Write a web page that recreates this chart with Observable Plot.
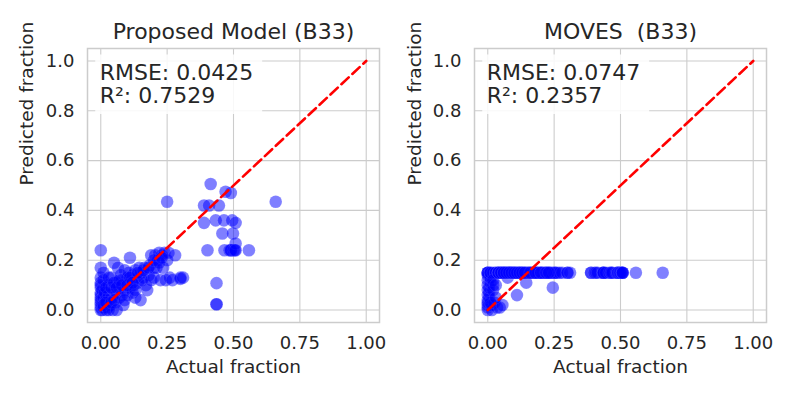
<!DOCTYPE html>
<html><head><meta charset="utf-8">
<script src="https://cdn.jsdelivr.net/npm/d3@7"></script>
<script src="https://cdn.jsdelivr.net/npm/@observablehq/plot@0.6"></script>
<style>
html,body{margin:0;padding:0;background:#fff;}
#wrap{position:relative;width:793px;height:397px;overflow:hidden;background:#fff;}
#wrap svg{position:absolute;top:0;font-family:"DejaVu Sans",sans-serif;}
svg text{white-space:pre;}
</style></head><body><div id="wrap"></div>
<script>
// Actual fraction (shared by both panels)
const actual = [
  0,0,0,0,0,0,0,0,0,0,0,0,0,0,0.005,0.005,0.005,0.01,0.01,0.01,0.01,0.015,0.015,0.02,
  0.02,0.025,0.03,0.03,0.035,0.04,0.04,0.045,0.05,0.05,0.055,0.06,0.06,0.065,0.07,0.07,0.075,0.08,0.08,0.085,0.09,0.09,0.095,0.1,0.1,
  0.105,0.11,0.11,0.115,0.12,0.12,0.125,0.13,0.13,0.14,0.14,0.145,0.15,0.15,0.155,0.16,0.165,0.17,0.175,0.18,0.185,0.19,0.19,0.2,0.2,
  0.205,0.21,0.215,0.22,0.225,0.23,0.235,0.24,0.245,0.25,0.25,0.255,0.26,0.27,0.28,0.3,0.3,0.31,
  0.389,0.389,0.402,0.408,0.414,0.433,0.436,0.436,0.436,0.445,0.458,0.464,0.466,0.47,0.485,0.49,0.49,0.49,0.495,0.498,0.5,0.505,0.508,0.508,0.508,0.558,0.659,
  0.01,0.02,0.02,0.03,0.03,0.04,0.04,0.05,0.05,0.06,0.06,0.07,0.08,0.09,0.1,0.11,0.12,0.13,0.14,0.16,0.18,0.2,0.22,0.23
];
// Predicted fraction, proposed model
const proposed = [
  0,0.01,0.02,0.03,0.05,0.07,0.09,0.11,0.13,0.17,0.24,0.06,0.04,0.1,0,0.02,0.08,0.01,0.05,0.12,0.15,0.03,0.07,0,
  0.04,0.01,0.06,0.1,0.02,0.05,0.13,0,0.08,0.19,0.03,0.07,0.11,0.17,0.05,0.09,0.14,0.06,0.12,0.02,0.08,0.16,0.1,0.06,0.13,
  0.15,0.09,0.21,0.12,0.07,0.14,0.1,0.16,0.05,0.13,0.11,0.17,0.04,0.15,0.12,0.13,0.17,0.1,0.08,0.14,0.18,0.12,0.22,0.17,0.13,
  0.22,0.17,0.2,0.23,0.12,0.22,0.17,0.23,0.12,0.435,0.2,0.23,0.13,0.12,0.22,0.13,0.125,0.13,
  0.42,0.35,0.24,0.42,0.506,0.36,0.108,0.023,0.023,0.42,0.307,0.36,0.24,0.475,0.24,0.47,0.24,0.24,0.36,0.307,0.24,0.24,0.35,0.267,0.24,0.24,0.435,
  0.02,0.03,0.09,0,0.13,0.03,0.09,0.04,0.11,0,0.09,0.12,0.1,0.04,0.1,0.13,0.11,0.08,0.15,0.16,0.17,0.2,0.19,0.21
];
// Predicted fraction, MOVES
const moves = [
  0,0.02,0.04,0.06,0.08,0.1,0.12,0.15,0.15,0.15,0.15,0.14,0.01,0.03,0.05,0.07,0.09,0.11,0.13,0.15,0.15,0,0.02,0.1,
  0.15,0.03,0.15,0.15,0.01,0.15,0.15,0.01,0.15,0.15,0.02,0.15,0.15,0.15,0.15,0.15,0.13,0.15,0.15,0.15,0.15,0.15,0.15,0.15,0.15,
  0.15,0.06,0.15,0.15,0.15,0.15,0.15,0.15,0.15,0.15,0.15,0.11,0.15,0.15,0.15,0.15,0.15,0.15,0.15,0.15,0.15,0.15,0.15,0.15,0.15,
  0.15,0.15,0.15,0.15,0.15,0.15,0.15,0.15,0.09,0.15,0.15,0.15,0.15,0.15,0.15,0.15,0.15,0.15,
  0.15,0.15,0.15,0.15,0.15,0.15,0.15,0.15,0.15,0.15,0.15,0.15,0.15,0.15,0.15,0.15,0.15,0.15,0.15,0.15,0.15,0.15,0.15,0.15,0.15,0.15,0.15,
  0.03,0.08,0.12,0.05,0.1,0.15,0.15,0.15,0.15,0.15,0.15,0.15,0.15,0.15,0.15,0.15,0.15,0.15,0.15,0.15,0.15,0.15,0.15,0.15
];
const titles = ["Proposed Model (B33)", "MOVES  (B33)"];
const rmse = ["0.0425", "0.0747"];
const r2 = ["0.7529", "0.2357"];
const xTicks = [0, 0.25, 0.5, 0.75, 1];
const yTicks = [0, 0.2, 0.4, 0.6, 0.8, 1];
const diag = [0, 1];
const preds = [proposed, moves];

const ink = "#262626";
const grid = "#cccccc";
const layouts = [
  {left: 0, width: 396, mL: 87, mR: 17, ylDx: -60},
  {left: 396, width: 397, mL: 78, mR: 27, ylDx: -59}
];

const wrap = document.getElementById("wrap");
layouts.forEach((L, i) => {
  const data = actual.map((a, k) => ({a, p: preds[i][k]}));
  const chart = Plot.plot({
    width: L.width, height: 397,
    marginLeft: L.mL, marginRight: L.mR, marginTop: 48, marginBottom: 75,
    style: {fontFamily: "DejaVu Sans", color: ink, background: "transparent", overflow: "visible"},
    x: {domain: [-0.05, 1.05]},
    y: {domain: [-0.05, 1.05]},
    marks: [
      Plot.gridX(xTicks, {stroke: grid, strokeOpacity: 1, strokeWidth: 1.1}),
      Plot.gridY(yTicks, {stroke: grid, strokeOpacity: 1, strokeWidth: 1.1}),
      Plot.frame({stroke: grid, strokeWidth: 1.5}),
      Plot.axisX(xTicks, {tickSize: 0, tickPadding: 14, fontSize: 18, tickFormat: d3.format(".2f"), label: null}),
      Plot.axisY(yTicks, {tickSize: 0, tickPadding: 13, fontSize: 18, tickFormat: d3.format(".1f"), label: null}),
      Plot.rect([0], {x1: -0.019, x2: 0.61, y1: 0.785, y2: 1.024, fill: "white", fillOpacity: 0.85}),
      Plot.text([`RMSE: ${rmse[i]}\nR²: ${r2[i]}`], {x: -0.004, y: 0.99, text: d => d, textAnchor: "start", lineAnchor: "top", lineHeight: 1.045, fontSize: 22, fill: ink}),
      Plot.dot(data, {x: "a", y: "p", r: 6.3, fill: "blue", fillOpacity: 0.5, stroke: "white", strokeOpacity: 0.15, strokeWidth: 0.6}),
      Plot.line(diag, {x: d => d, y: d => d, stroke: "red", strokeWidth: 2.6, strokeDasharray: "10,5"}),
      Plot.text([titles[i]], {frameAnchor: "top", lineAnchor: "middle", dy: -17, fontSize: 22, fill: ink, text: d => d}),
      Plot.text(["Actual fraction"], {frameAnchor: "bottom", lineAnchor: "middle", dy: 45, fontSize: 18.5, fill: ink, text: d => d}),
      Plot.text(["Predicted fraction"], {frameAnchor: "left", lineAnchor: "middle", dx: L.ylDx, rotate: -90, fontSize: 18.5, fill: ink, text: d => d})
    ]
  });
  chart.style.left = L.left + "px";
  wrap.appendChild(chart);
});
</script>
</body></html>
